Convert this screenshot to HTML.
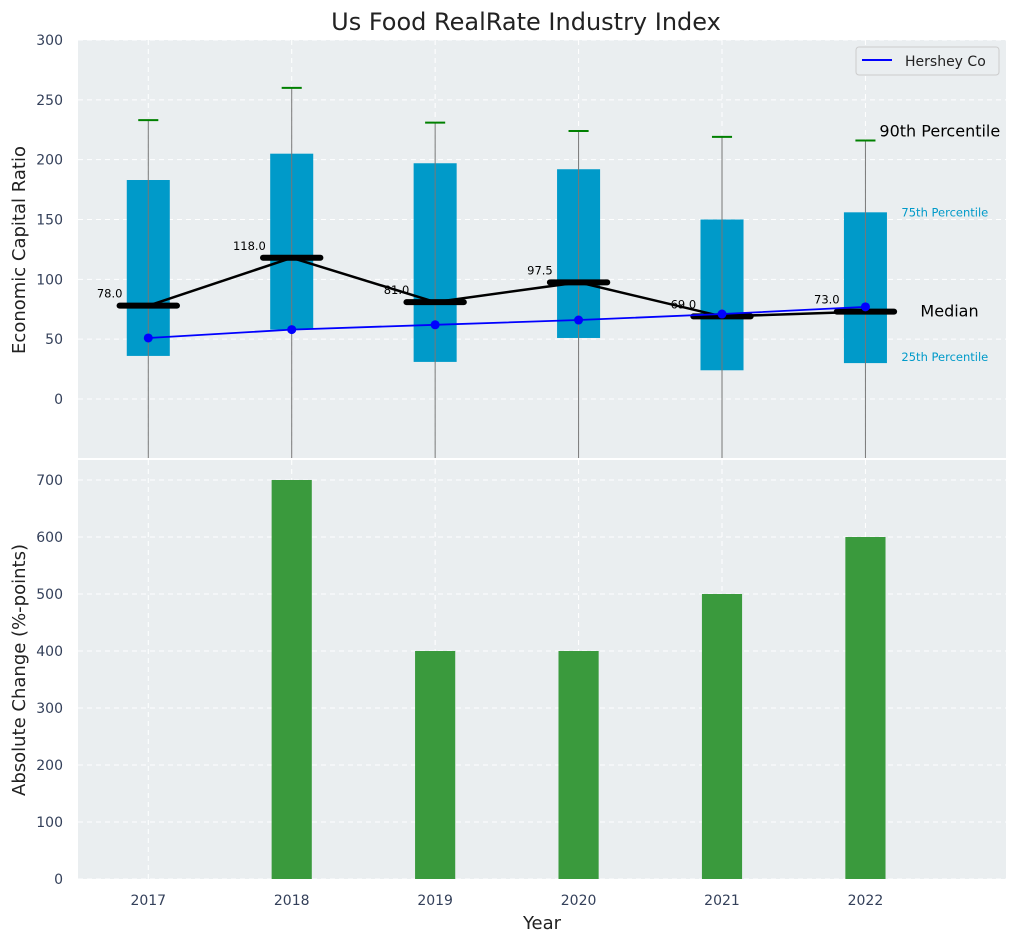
<!DOCTYPE html>
<html><head><meta charset="utf-8"><style>
body{margin:0;background:#fff;font-family:"DejaVu Sans","Liberation Sans",sans-serif}
svg text{font-family:"DejaVu Sans","Liberation Sans",sans-serif}
</style></head><body>
<svg id="c" width="1016" height="942"></svg>
<script>
const years=[2017,2018,2019,2020,2021,2022];
const p25=[36,58,31,51,24,30];
const p75=[183,205,197,192,150,156];
const p90=[233,260,231,224,219,216];
const medians=[78,118,81,97.5,69,73];
const hershey=[51,58,62,66,71,77];
const changes=[0,700,400,400,500,600];
const topTicks=[0,50,100,150,200,250,300];
const botTicks=[0,100,200,300,400,500,600,700];

const NS="http://www.w3.org/2000/svg";
const svg=document.getElementById('c');
function el(t,a,p){const e=document.createElementNS(NS,t);for(const k in a)e.setAttribute(k,a[k]);(p||svg).appendChild(e);return e;}
const L=78,R=1006;
const x=v=>L+(v-2016.51)/(2022.98-2016.51)*(R-L);
const T0=40,T1=458; const yT=v=>399-(v)*(399-40)/300;
const B0=460,B1=879; const yB=v=>879-v*(879-480)/700;
const pxu=(R-L)/(2022.98-2016.51);
const tc='#34405a';

let r=el('rect',{x:L,y:T0,width:R-L,height:T1-T0,fill:'#eaeef0'});

r=el('rect',{x:L,y:B0,width:R-L,height:B1-B0,fill:'#eaeef0'});


years.forEach(v=>{el('line',{x1:x(v),x2:x(v),y1:T0,y2:T1,stroke:'#fff','stroke-dasharray':'5,4','stroke-width':1});
el('line',{x1:x(v),x2:x(v),y1:B0,y2:B1,stroke:'#fff','stroke-dasharray':'5,4','stroke-width':1});
let t=el('text',{x:x(v),y:905,'text-anchor':'middle','font-size':14,fill:tc});t.textContent=v;
});
topTicks.forEach(v=>{el('line',{x1:L,x2:R,y1:yT(v),y2:yT(v),stroke:'#fff','stroke-dasharray':'5,4'});
let t=el('text',{x:L-15,y:yT(v)+5,'text-anchor':'end','font-size':14,fill:tc});t.textContent=v;
});
botTicks.forEach(v=>{el('line',{x1:L,x2:R,y1:yB(v),y2:yB(v),stroke:'#fff','stroke-dasharray':'5,4'});
let t=el('text',{x:L-15,y:yB(v)+5,'text-anchor':'end','font-size':14,fill:tc});t.textContent=v;
});

years.forEach((v,i)=>{
 let b=el('rect',{x:x(v)-0.15*pxu,y:yT(p75[i]),width:0.3*pxu,height:yT(p25[i])-yT(p75[i]),fill:'#009ac9'});
 
 let w=el('line',{x1:x(v),x2:x(v),y1:yT(p90[i]),y2:T1,stroke:'#777','stroke-width':1});
 
 let c=el('line',{x1:x(v)-0.07*pxu,x2:x(v)+0.07*pxu,y1:yT(p90[i]),y2:yT(p90[i]),stroke:'green','stroke-width':2});
 
});
let pts=years.map((v,i)=>x(v)+','+yT(medians[i])).join(' ');
let ml=el('polyline',{points:pts,fill:'none',stroke:'#000','stroke-width':2.5});

years.forEach((v,i)=>{
 let m=el('line',{x1:x(v)-0.2*pxu,x2:x(v)+0.2*pxu,y1:yT(medians[i]),y2:yT(medians[i]),stroke:'#000','stroke-width':6,'stroke-linecap':'round'});
 
 let t=el('text',{x:x(v)-0.18*pxu,y:yT(medians[i])-8,'text-anchor':'end','font-size':11.5,fill:'#000'});t.textContent=medians[i].toFixed(1);
 
});
let hl=el('polyline',{points:years.map((v,i)=>x(v)+','+yT(hershey[i])).join(' '),fill:'none',stroke:'#0000ff','stroke-width':1.8});

years.forEach((v,i)=>{let c=el('circle',{cx:x(v),cy:yT(hershey[i]),r:4.5,fill:'#0000ff'});
});
const last=years.length-1, lx=x(years[last]);
let a=el('text',{x:lx+14,y:yT(p90[last])-4,'font-size':16,fill:'#000'});a.textContent='90th Percentile';

a=el('text',{x:lx+36,y:yT(p75[last])+4,'font-size':11.5,fill:'#009ac9'});a.textContent='75th Percentile';

a=el('text',{x:lx+55,y:yT(medians[last])+5,'font-size':16,fill:'#000'});a.textContent='Median';

a=el('text',{x:lx+36,y:yT(p25[last])-2,'font-size':11.5,fill:'#009ac9'});a.textContent='25th Percentile';

let lg=el('g',{});
el('rect',{x:856,y:47,width:143,height:28,rx:3,fill:'#eaeef0',stroke:'#ccc'},lg);
el('line',{x1:862,x2:892,y1:60,y2:60,stroke:'#0000ff','stroke-width':2},lg);
let lt=el('text',{x:905,y:66,'font-size':14,fill:'#222'},lg);lt.textContent='Hershey Co';
years.forEach((v,i)=>{if(changes[i]<=0)return;
 let b=el('rect',{x:x(v)-0.14*pxu,y:yB(changes[i]),width:0.28*pxu,height:yB(0)-yB(changes[i]),fill:'#3a9a3d'});
 });
let t=el('text',{x:526,y:30,'text-anchor':'middle','font-size':24,fill:'#222'});t.textContent='Us Food RealRate Industry Index';

t=el('text',{x:542,y:929,'text-anchor':'middle','font-size':18,fill:'#222'});t.textContent='Year';

t=el('text',{x:25,y:250,'text-anchor':'middle','font-size':18,fill:'#222',transform:'rotate(-90 25 250)'});t.textContent='Economic Capital Ratio';

t=el('text',{x:25,y:670,'text-anchor':'middle','font-size':18,fill:'#222',transform:'rotate(-90 25 670)'});t.textContent='Absolute Change (%-points)';

</script>
</body></html>
